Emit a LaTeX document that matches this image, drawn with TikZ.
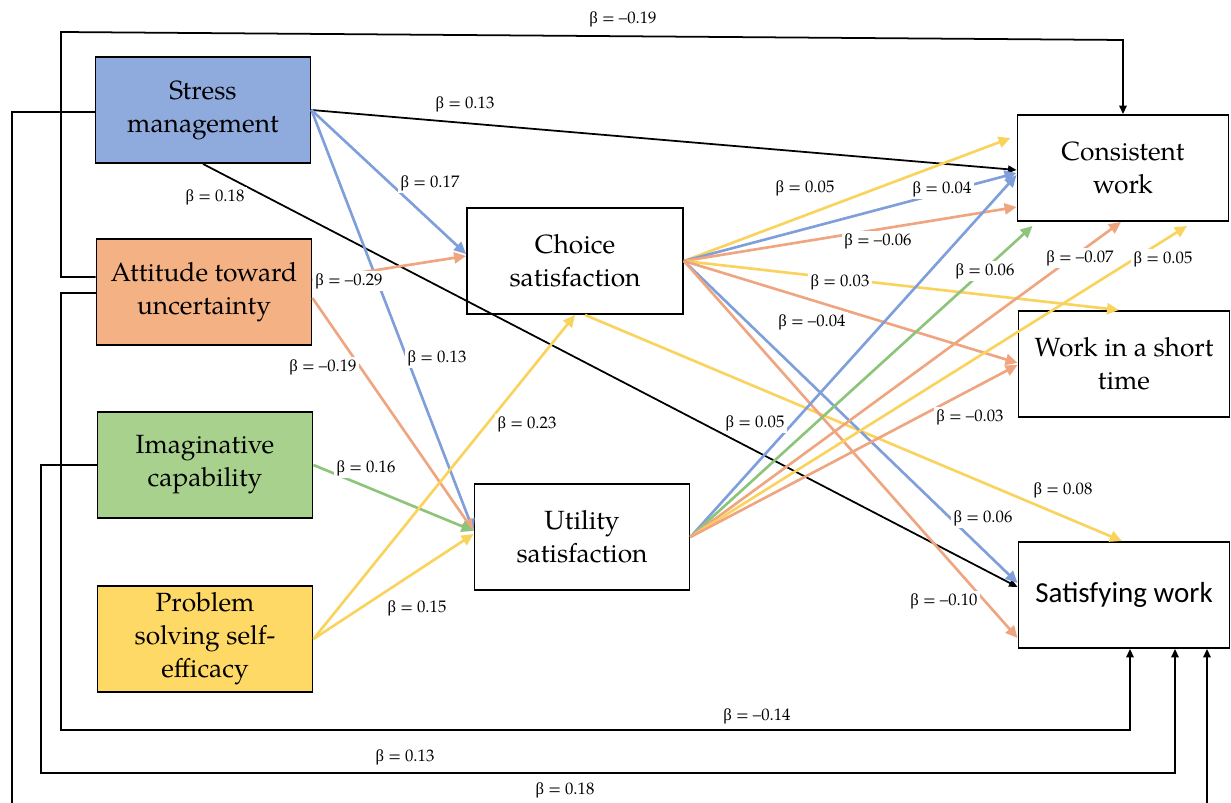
\documentclass[tikz,border=0pt]{standalone}
\usepackage{fontspec}
\setmainfont{TeX Gyre Pagella}
\newfontfamily\calibri{Carlito}
\newfontfamily\greek{Liberation Serif}
\usetikzlibrary{arrows.meta,calc}
\definecolor{smblue}{HTML}{8FAADC}
\definecolor{auorange}{HTML}{F4B183}
\definecolor{icgreen}{HTML}{A9D18E}
\definecolor{psyellow}{HTML}{FFD966}
\definecolor{lnblue}{HTML}{7F9FDB}
\definecolor{lnorange}{HTML}{EFA57F}
\definecolor{lngreen}{HTML}{8CC47A}
\definecolor{lnyellow}{HTML}{FAD35C}
\newcommand{\bq}{{\greek β}}
\tikzset{
factor/.style={
	draw,
	line width=1.1pt,
	minimum width=4.3cm,
	minimum height=2.12cm,
	align=center,
	font=\fontsize{15}{18.7}\selectfont
},
outcome/.style={
	factor,
	fill=white,
	minimum width=4.22cm
}
}
\tikzset{
beta/.style={fill=white, inner sep=1.5pt, font=\fontsize{9.5}{10}\selectfont},
coef/.style={line width=1.5pt, -{Triangle[length=2.4mm,width=2.2mm]}},
direct/.style={line width=1pt, -{Triangle[length=1.7mm,width=1.5mm]}}
}

\begin{document}
\begin{tikzpicture}[x=0.02cm, y=-0.02cm]
		\useasboundingbox (0,0) rectangle (1231,803);
		% predictors
		\node[factor, fill=smblue] (sm) at (203,110) {Stress\\management};
		\node[factor, fill=auorange] (au) at (204,292) {Attitude toward\\uncertainty};
		\node[factor, fill=icgreen] (ic) at (205,465) {Imaginative\\capability};
		\node[factor, fill=psyellow] (ps) at (205,639) {Problem\\solving self-\\efficacy};
		% mediators
		\node[outcome, minimum width=4.32cm] (cs) at (575,261) {Choice\\satisfaction};
		\node[outcome, minimum width=4.3cm] (us) at (582,537) {Utility\\satisfaction};
		% outcomes
		\node[outcome] (cw) at (1123,168) {Consistent\\work};
		\node[outcome] (ws) at (1124,364) {Work in a short\\time};
		\node[outcome, font=\calibri\fontsize{16.5}{20}\selectfont] (sw) at (1124,595) {Satisfying work};
		% black paths
		\draw[direct] (sm.east) -- ($(cw.west)+(0,2)$);
		\draw[direct] (sm.south) -- ($(sw.west)+(0,-8)$);
		\draw[direct] ($(au.west)+(0,-15)$) -| (61,32) -- (1123,40) -- (cw.north);
		\draw[direct] ($(au.west)+(0,1)$) -| (61,730) -| ($(sw.south)+(6,0)$);
		\draw[direct] (ic.west) -| (41,773) -| ($(sw.south)+(51,0)$);
		\draw[direct] ($(sm.west)+(0,2)$) -| (12,808) -| ($(sw.south)+(83,0)$);
		% into the mediators
		\draw[coef, lnblue] (sm.east) -- ($(cs.west)+(0,-7)$);
		\draw[coef, lnblue] (sm.east) -- ($(us.west)+(0,-6)$);
		\draw[coef, lnorange] ($(au.east)+(0,-12)$) -- ($(cs.west)+(0,-5)$);
		\draw[coef, lnorange] ($(au.east)+(0,6)$) -- ($(us.west)+(0,-6)$);
		\draw[coef, lngreen] (ic.east) -- ($(us.west)+(0,-6)$);
		\draw[coef, lnyellow] (ps.east) -- ($(us.west)+(0,-3)$);
		\draw[coef, lnyellow] (ps.east) -- (cs.south);
		% out of choice satisfaction
		\draw[coef, lnyellow] (cs.east) -- ($(cw.west)+(-6,-30)$);
		\draw[coef, lnblue] (cs.east) -- ($(cw.west)+(0,5)$);
		\draw[coef, lnorange] (cs.east) -- ($(cw.west)+(0,39)$);
		\draw[coef, lnyellow] (cs.east) -- ($(ws.north)+(-5,0)$);
		\draw[coef, lnorange] (cs.east) -- ($(ws.west)+(0,-1)$);
		\draw[coef, lnyellow] ($(cs.south)+(10,0)$) -- ($(sw.north)+(-2,0)$);
		\draw[coef, lnblue] (cs.east) -- ($(sw.west)+(0,-12)$);
		\draw[coef, lnorange] (cs.east) -- ($(sw.west)+(0,43)$);
		% out of utility satisfaction
		\draw[coef, lnblue] (us.east) -- ($(cw.west)+(0,7)$);
		\draw[coef, lngreen] (us.east) -- ($(cw.south west)+(16,4)$);
		\draw[coef, lnorange] (us.east) -- ($(cw.south)+(-2,0)$);
		\draw[coef, lnyellow] (us.east) -- ($(cw.south)+(64,4)$);
		\draw[coef, lnorange] (us.east) -- ($(ws.west)+(0,1)$);
		% coefficients
		\node[beta] (b1) at (623,19) {\bq{} = --0.19};
		\node[beta] (b2) at (465,104) {\bq{} = 0.13};
		\node[beta] (b3) at (430,183) {\bq{} = 0.17};
		\node[beta] (b4) at (215,197) {\bq{} = 0.18};
		\node[beta] (b5) at (349,281) {\bq{} = --0.29};
		\node[beta] (b6) at (323,367) {\bq{} = --0.19};
		\node[beta] (b7) at (437,358) {\bq{} = 0.13};
		\node[beta] (b8) at (527,424) {\bq{} = 0.23};
		\node[beta] (b9) at (366,468) {\bq{} = 0.16};
		\node[beta] (b10) at (417,608) {\bq{} = 0.15};
		\node[beta] (b11) at (805,188) {\bq{} = 0.05};
		\node[beta] (b12) at (942,189) {\bq{} = 0.04};
		\node[beta] (b13) at (878,241) {\bq{} = --0.06};
		\node[beta] (b14) at (985,271) {\bq{} = 0.06};
		\node[beta] (b15) at (1080,258) {\bq{} = --0.07};
		\node[beta] (b16) at (1163,259) {\bq{} = 0.05};
		\node[beta] (b17) at (840,282) {\bq{} = 0.03};
		\node[beta] (b18) at (812,322) {\bq{} = --0.04};
		\node[beta] (b19) at (970,417) {\bq{} = --0.03};
		\node[beta] (b20) at (755,423) {\bq{} = 0.05};
		\node[beta] (b21) at (1063,490) {\bq{} = 0.08};
		\node[beta] (b22) at (983,518) {\bq{} = 0.06};
		\node[beta] (b23) at (944,601) {\bq{} = --0.10};
		\node[beta] (b24) at (757,716) {\bq{} = --0.14};
		\node[beta] (b25) at (405,757) {\bq{} = 0.13};
		\node[beta] (b26) at (565,790) {\bq{} = 0.18};
\end{tikzpicture}
\end{document}
